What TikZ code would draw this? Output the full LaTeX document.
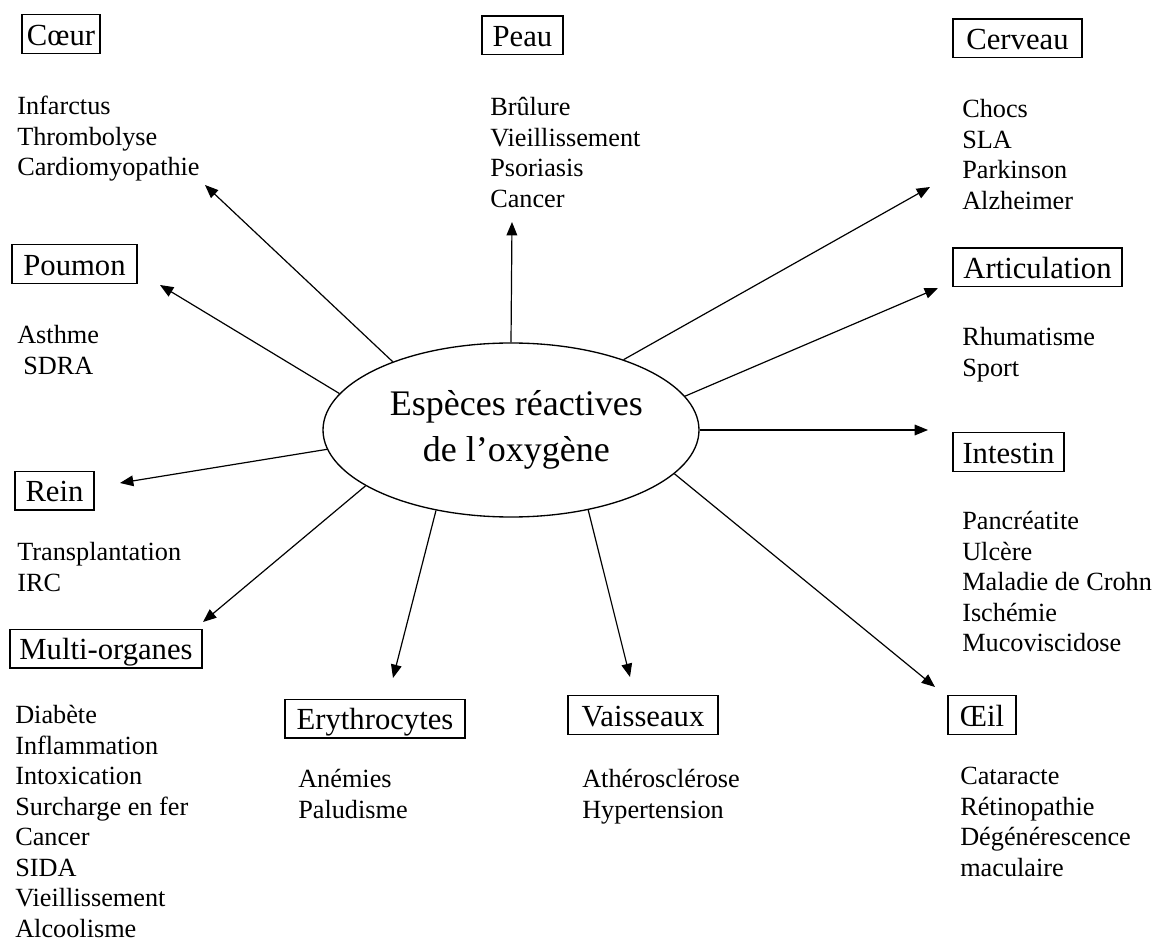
\documentclass[tikz,border=0pt]{standalone}
\usepackage{fontspec}
\setmainfont{Liberation Serif}
\usetikzlibrary{arrows.meta,shapes.geometric}

\tikzset{
  organe/.style={draw, line width=1pt, inner xsep=0pt, inner ysep=3pt, text height=20pt, text depth=3pt, font=\fontsize{23}{27}\selectfont},
  maladies/.style={anchor=north west, align=left, inner sep=0pt, font=\fontsize{19.7}{22.9}\selectfont},
  fleche/.style={line width=0.9pt, -{Triangle[length=10pt,width=8pt]}}
}

\begin{document}
\begin{tikzpicture}[x=0.75pt, y=-0.75pt]
      \useasboundingbox (0,0) rectangle (1154,941);
      \node[ellipse, draw, line width=1pt, minimum width=282pt, minimum height=130.5pt, inner sep=0pt, align=center, font=\fontsize{27}{34}\selectfont] (ros) at (511,430) {\hspace*{8pt}Espèces réactives\\\hspace*{8pt}de l’oxygène};

      \node[organe, minimum width=58.5pt] (coeur) at (61,34) {Cœur};
      \node[organe, minimum width=60.75pt] (peau) at (522.5,35.5) {Peau};
      \node[organe, minimum width=96.75pt] (cerveau) at (1017.5,38.5) {Cerveau};
      \node[organe, minimum width=93.75pt] (poumon) at (74.5,264) {Poumon};
      \node[organe, minimum width=126.75pt] (articulation) at (1037.5,267.5) {Articulation};
      \node[organe, minimum width=59.25pt] (rein) at (54.5,490.5) {Rein};
      \node[organe, minimum width=83.25pt] (intestin) at (1008.5,452) {Intestin};
      \node[organe, minimum width=144pt] (multi) at (106,648.5) {Multi-organes};
      \node[organe, minimum width=135pt] (erythro) at (375,718.5) {Erythrocytes};
      \node[organe, minimum width=112.5pt] (vaisseaux) at (643,715) {Vaisseaux};
      \node[organe, minimum width=51pt] (oeil) at (982,715) {Œil};

      \node[maladies] (lcoeur) at (17,96) {Infarctus\\Thrombolyse\\Cardiomyopathie};
      \node[maladies] (lpeau) at (490,97) {Brûlure\\Vieillissement\\Psoriasis\\Cancer};
      \node[maladies] (lcerveau) at (962,99) {Chocs\\SLA\\Parkinson\\Alzheimer};
      \node[maladies] (lpoumon) at (17,325) {Asthme\\\hspace*{4.5pt}SDRA};
      \node[maladies] (larticulation) at (962,327) {Rhumatisme\\Sport};
      \node[maladies] (lrein) at (17,542) {Transplantation\\IRC};
      \node[maladies] (lintestin) at (962,511) {Pancréatite\\Ulcère\\Maladie de Crohn\\Ischémie\\Mucoviscidose};
      \node[maladies] (lmulti) at (15,705) {Diabète\\Inflammation\\Intoxication\\Surcharge en fer\\Cancer\\SIDA\\Vieillissement\\Alcoolisme};
      \node[maladies] (lerythro) at (298,769) {Anémies\\Paludisme};
      \node[maladies] (lvaisseaux) at (582,769) {Athérosclérose\\Hypertension};
      \node[maladies] (loeil) at (960,767) {Cataracte\\Rétinopathie\\Dégénérescence\\maculaire};

      \coordinate (tcoeur) at (205,185);
      \coordinate (tpoumon) at (160,285);
      \coordinate (tpeau) at (512,222);
      \coordinate (tcerveau) at (930,187);
      \coordinate (tarticulation) at (938,288);
      \coordinate (tintestin) at (928,430);
      \coordinate (trein) at (120,483);
      \coordinate (tmulti) at (203,622);
      \coordinate (terythro) at (393,678);
      \coordinate (tvaisseaux) at (630,677);
      \coordinate (toeil) at (935,687);

      \draw[fleche] (ros.150.7) -- (tcoeur);
      \draw[fleche] (ros.168) -- (tpoumon);
      \draw[fleche] (ros.90) -- (tpeau);
      \draw[fleche] (ros.32.3) -- (tcerveau);
      \draw[fleche] (ros.11.2) -- (tarticulation);
      \draw[fleche] (ros.0) -- (tintestin);
      \draw[fleche] (ros.186.5) -- (trein);
      \draw[fleche] (ros.201) -- (tmulti);
      \draw[fleche] (ros.227) -- (terythro);
      \draw[fleche] (ros.314) -- (tvaisseaux);
      \draw[fleche] (ros.345) -- (toeil);
    \end{tikzpicture}
\end{document}
